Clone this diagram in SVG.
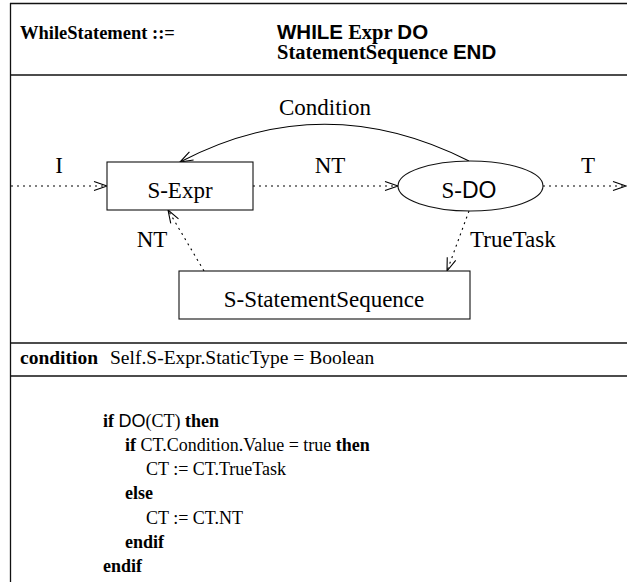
<svg xmlns="http://www.w3.org/2000/svg" width="627" height="582" viewBox="0 0 627 582">
<style>
.frame{stroke:#111;stroke-width:1.3;fill:none}
.node{fill:#fff;stroke:#111;stroke-width:1.1}
.lbl{font-family:"Liberation Serif",serif;font-size:23px;fill:#000}
.sans{font-family:"Liberation Sans",Arial,sans-serif}
.hdr{font-family:"Liberation Serif",serif;font-weight:bold;fill:#000}
.body{font-family:"Liberation Serif",serif;fill:#000}
.code{font-size:18px}
.b{font-weight:bold}
.dot{stroke:#000;stroke-width:1.1;fill:none;stroke-dasharray:2,4}
.solid{stroke:#000;stroke-width:1.1;fill:none}
</style>
<defs>
<marker id="arr" markerUnits="userSpaceOnUse" markerWidth="16" markerHeight="12" viewBox="0 0 16 12" refX="14" refY="6" orient="auto">
<path d="M1,1.5 L14,6 L1,10.5" fill="none" stroke="#000" stroke-width="1.1"/>
</marker>
</defs>
<rect width="627" height="582" fill="#fff"/>
<g id="frame" class="frame">
<line x1="10.5" y1="3" x2="10.5" y2="582"/>
<line x1="10" y1="3.5" x2="627" y2="3.5"/>
<line x1="10" y1="75" x2="627" y2="75"/>
<line x1="10" y1="343" x2="627" y2="343"/>
<line x1="10" y1="376" x2="627" y2="376"/>
</g>
<g id="header" class="hdr">
<text x="20" y="39" font-size="18.5">WhileStatement ::=</text>
<text x="277" y="39" font-size="20.5"><tspan class="sans">WHILE</tspan> Expr <tspan class="sans">DO</tspan></text>
<text x="277" y="59" font-size="20.5">StatementSequence <tspan class="sans">END</tspan></text>
</g>
<g id="connectors">
<line class="dot" x1="11" y1="186" x2="107" y2="186" marker-end="url(#arr)"/>
<line class="dot" x1="253" y1="186" x2="398" y2="186" marker-end="url(#arr)"/>
<line class="dot" x1="543" y1="186" x2="626" y2="186" marker-end="url(#arr)"/>
<path class="solid" d="M469,161 Q323,87 180,162" marker-end="url(#arr)"/>
<line class="dot" x1="469" y1="211" x2="447" y2="271" marker-end="url(#arr)"/>
<line class="dot" x1="204" y1="271" x2="168" y2="210" marker-end="url(#arr)"/>
<text class="lbl" x="59" y="173" text-anchor="middle">I</text>
<text class="lbl" x="325" y="115" text-anchor="middle">Condition</text>
<text class="lbl" x="330" y="173" text-anchor="middle">NT</text>
<text class="lbl" x="588" y="173" text-anchor="middle">T</text>
<text class="lbl" x="152" y="247" text-anchor="middle">NT</text>
<text class="lbl" x="470" y="247">TrueTask</text>
</g>
<g id="S-Expr">
<rect class="node" x="107" y="162" width="146" height="48"/>
<text class="lbl" x="180" y="198" text-anchor="middle">S-Expr</text>
</g>
<g id="S-DO">
<ellipse class="node" cx="470.5" cy="186" rx="72.5" ry="25"/>
<text class="lbl" x="469" y="198" text-anchor="middle">S-<tspan class="sans">DO</tspan></text>
</g>
<g id="S-StatementSequence">
<rect class="node" x="179" y="271" width="291" height="48"/>
<text class="lbl" x="324" y="307" text-anchor="middle">S-StatementSequence</text>
</g>
<g id="condition" class="body" font-size="19.5">
<text x="20" y="364" class="b">condition</text>
<text x="110" y="364">Self.S-Expr.StaticType = Boolean</text>
</g>
<g id="code" class="body code">
<text x="103" y="427"><tspan class="b">if</tspan> <tspan class="sans">DO</tspan>(CT) <tspan class="b">then</tspan></text>
<text x="125" y="451"><tspan class="b">if</tspan> CT.Condition.Value = true <tspan class="b">then</tspan></text>
<text x="146" y="475">CT := CT.TrueTask</text>
<text x="125" y="499" class="b">else</text>
<text x="146" y="524">CT := CT.NT</text>
<text x="125" y="548" class="b">endif</text>
<text x="103" y="572" class="b">endif</text>
</g>
</svg>
